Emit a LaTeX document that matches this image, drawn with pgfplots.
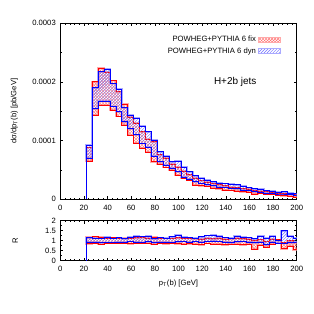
\documentclass[border=0pt]{standalone}
\usepackage{fontspec}
\setmainfont{Liberation Sans}
\usepackage{pgfplots}
\pgfplotsset{compat=1.18}
\usepackage{pgfplotstable}
\usetikzlibrary{patterns}

% each band: upper edges left to right (bin lower edge, value),
% then lower edges right to left (bin upper edge, value)
\pgfplotstableread{
x y
22 0.88
27 2.00
32 2.23
37 2.16
42 2.02
47 1.83
52 1.62
57 1.40
62 1.30
67 1.15
72 1.02
77 0.98
82 0.76
87 0.70
92 0.60
97 0.55
102 0.48
107 0.42
112 0.36
117 0.32
122 0.29
127 0.27
132 0.25
137 0.23
142 0.21
147 0.20
152 0.18
157 0.17
162 0.15
167 0.14
172 0.13
177 0.12
182 0.11
187 0.10
192 0.09
197 0.08
202 0.08
202 0.04
197 0.05
192 0.06
187 0.07
182 0.08
177 0.08
172 0.10
167 0.09
162 0.12
157 0.13
152 0.14
147 0.15
142 0.16
137 0.18
132 0.19
127 0.22
122 0.23
117 0.24
112 0.32
107 0.36
102 0.41
97 0.50
92 0.54
87 0.60
82 0.64
77 0.80
72 0.87
67 0.96
62 1.09
57 1.26
52 1.41
47 1.52
42 1.60
37 1.60
32 1.43
27 0.65
22 0.65
}\mainR

\pgfplotstableread{
x y
22 0.92
27 1.90
32 2.17
37 2.22
42 1.97
47 1.88
52 1.56
57 1.43
62 1.38
67 1.25
72 1.15
77 1.01
82 0.81
87 0.74
92 0.64
97 0.65
102 0.55
107 0.47
112 0.40
117 0.36
122 0.33
127 0.30
132 0.28
137 0.27
142 0.26
147 0.25
152 0.22
157 0.20
162 0.18
167 0.17
172 0.15
177 0.14
182 0.12
187 0.13
192 0.11
197 0.10
202 0.10
202 0.07
197 0.08
192 0.09
187 0.09
182 0.10
177 0.11
172 0.12
167 0.13
162 0.15
157 0.16
152 0.18
147 0.19
142 0.20
137 0.21
132 0.23
127 0.25
122 0.27
117 0.30
112 0.34
107 0.38
102 0.47
97 0.53
92 0.58
87 0.64
82 0.73
77 0.89
72 0.95
67 1.10
62 1.20
57 1.32
52 1.49
47 1.58
42 1.67
37 1.67
32 1.54
27 0.70
22 0.70
}\mainB

\pgfplotstableread{
x y
22 1.18
27 1.20
32 1.17
37 1.14
42 1.15
47 1.13
52 1.14
57 1.12
62 1.15
67 1.16
72 1.13
77 1.18
82 1.12
87 1.14
92 1.12
97 1.15
102 1.12
107 1.14
112 1.10
117 1.08
122 1.12
127 1.10
132 1.12
137 1.08
142 1.10
147 1.12
152 1.10
157 1.08
162 1.04
167 1.06
172 0.96
177 1.08
182 1.06
187 0.90
192 1.00
197 0.90
202 0.90
202 0.55
197 0.74
192 0.60
187 0.86
182 0.82
177 0.68
172 0.78
167 0.58
162 0.82
157 0.80
152 0.84
147 0.82
142 0.80
137 0.82
132 0.84
127 0.86
122 0.80
117 0.82
112 0.85
107 0.84
102 0.85
97 0.86
92 0.85
87 0.86
82 0.82
77 0.87
72 0.88
67 0.86
62 0.85
57 0.86
52 0.87
47 0.88
42 0.86
37 0.84
32 0.86
27 0.85
22 0.85
}\ratR

\pgfplotstableread{
x y
22 1.15
27 1.12
32 1.14
37 1.18
42 1.12
47 1.16
52 1.10
57 1.18
62 1.22
67 1.20
72 1.24
77 1.10
82 1.15
87 1.12
92 1.20
97 1.28
102 1.18
107 1.16
112 1.14
117 1.20
122 1.26
127 1.28
132 1.24
137 1.16
142 1.14
147 1.22
152 1.18
157 1.16
162 1.10
167 1.24
172 1.12
177 1.22
182 1.04
187 1.50
192 1.22
197 1.12
202 1.12
202 0.92
197 0.90
192 0.86
187 0.88
182 0.94
177 0.80
172 0.94
167 0.90
162 0.94
157 0.96
152 0.95
147 0.90
142 0.92
137 0.96
132 0.98
127 0.96
122 0.94
117 0.96
112 0.94
107 0.96
102 0.95
97 0.90
92 0.93
87 0.92
82 0.90
77 0.95
72 0.90
67 0.92
62 0.96
57 0.93
52 0.92
47 0.90
42 0.91
37 0.90
32 0.92
27 0.92
22 0.92
}\ratB

\definecolor{lightR}{RGB}{255,170,170}
\definecolor{lightB}{RGB}{170,170,255}

\pgfplotsset{
  common/.style={
    scale only axis, width=236.4bp, xmin=0, xmax=200,
    xtick={0,20,...,200}, minor x tick num=4,
    tick align=inside,
    major tick length=3bp, minor tick length=1.6bp,
    every tick/.style={black, line width=0.5pt},
    axis line style={line width=0.7pt},
    tick label style={font=\fontsize{7.7}{9}\selectfont},
    /pgf/number format/assume math mode=true,
    xticklabel style={yshift=-2bp},
    yticklabel style={xshift=-1bp},
    clip=true,
  },
  glowR/.style={const plot mark left, draw=lightR, line width=1.8pt, forget plot},
  glowB/.style={const plot mark left, draw=lightB, line width=1.8pt, forget plot},
  bandR/.style={const plot mark left, draw=red, line width=0.6pt, pattern=crosshatch, pattern color=red!55, forget plot},
  bandB/.style={const plot mark left, draw=blue, line width=0.6pt, pattern=north east lines, pattern color=blue!55, forget plot},
}

\begin{document}
\begin{tikzpicture}
\path[use as bounding box] (0bp,0bp) rectangle (314bp,314bp);

\begin{axis}[common, at={(60.3bp,291bp)}, anchor=north west,
  height=176.3bp, ymin=0, ymax=3,
  ytick={0,1,2,3}, yticklabels={0,0.0001,0.0002,0.0003}, minor y tick num=1,
  ylabel={dσ/dp\textsubscript{T}(b) [pb/GeV]},
  every axis y label/.style={at={(rel axis cs:0,0.5)}, xshift=-46bp, rotate=90, anchor=center, font=\fontsize{7.7}{9}\selectfont},
  legend style={at={(0.933,0.938)}, anchor=north east, draw=none, fill=none, inner sep=0pt, font=\fontsize{7.7}{9}\selectfont, row sep=0.6bp},
  legend cell align=right, legend plot pos=right,
]
\addlegendimage{legend image code/.code={\draw[pattern=crosshatch, pattern color=red!55, draw=lightR, line width=0.8pt] (0bp,-2.6bp) rectangle (22bp,2.6bp);}}
\addlegendentry{POWHEG+PYTHIA 6 fix}
\addlegendimage{legend image code/.code={\draw[pattern=north east lines, pattern color=blue!55, draw=lightB, line width=0.8pt] (0bp,-2.6bp) rectangle (22bp,2.6bp);}}
\addlegendentry{POWHEG+PYTHIA 6 dyn}

\addplot[glowR] table {\mainR} -- cycle;
\addplot[glowB] table {\mainB} -- cycle;
\addplot[bandR] table {\mainR} -- cycle;
\addplot[bandB] table {\mainB} -- cycle;
\addplot[blue, line width=0.6pt, forget plot] coordinates {(22,0) (22,0.92)};
\node[font=\fontsize{10}{12}\selectfont] at (axis cs:148,2.0) {H+2b jets};
\end{axis}

\begin{axis}[common, at={(60.3bp,93.3bp)}, anchor=north west,
  height=40bp, ymin=0, ymax=2,
  ytick={0,0.5,1,1.5,2}, yticklabels={0,0.5,1,1.5,2}, minor y tick num=1,
  ylabel={R},
  every axis y label/.style={at={(rel axis cs:0,0.5)}, xshift=-45bp, rotate=90, anchor=center, font=\fontsize{7.7}{9}\selectfont},
  xlabel={p\textsubscript{T}(b) [GeV]},
  every axis x label/.style={at={(rel axis cs:0.5,0)}, yshift=-23bp, anchor=center, font=\fontsize{7.7}{9}\selectfont},
]
\addplot[glowR] table {\ratR} -- cycle;
\addplot[glowB] table {\ratB} -- cycle;
\addplot[bandR] table {\ratR} -- cycle;
\addplot[bandB] table {\ratB} -- cycle;
\addplot[blue, line width=0.6pt, forget plot] coordinates {(22,0) (22,1.15)};
\end{axis}
\end{tikzpicture}
\end{document}
